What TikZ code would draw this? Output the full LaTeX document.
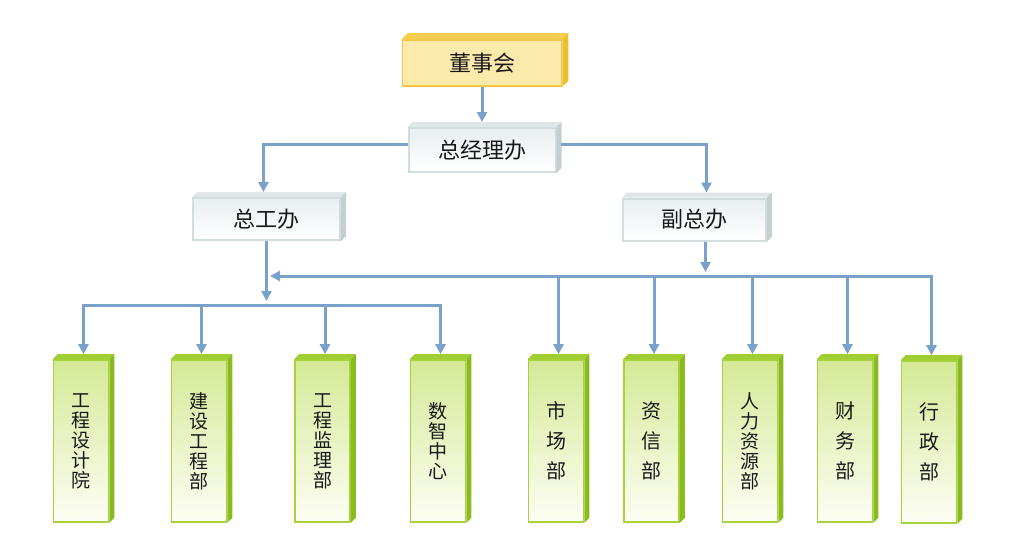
\documentclass[tikz,border=0pt]{standalone}
\usepackage{fontspec}
\setmainfont{Noto Sans CJK SC}
\usetikzlibrary{arrows.meta}
\definecolor{conncol}{RGB}{122,161,201}
\definecolor{goldfill}{RGB}{252,233,172}
\definecolor{goldline}{RGB}{242,199,64}
\definecolor{goldtop}{RGB}{244,205,85}
\definecolor{goldside}{RGB}{236,190,48}
\definecolor{grayline}{RGB}{208,220,222}
\definecolor{graytopc}{RGB}{232,238,240}
\definecolor{graytop}{RGB}{222,230,232}
\definecolor{grayside}{RGB}{196,207,210}
\definecolor{grline}{RGB}{168,210,60}
\definecolor{grtopc}{RGB}{212,233,150}
\definecolor{grbotc}{RGB}{253,254,244}
\definecolor{grtop}{RGB}{160,205,50}
\definecolor{grside}{RGB}{138,187,30}
\definecolor{txt}{RGB}{25,25,25}
\newcommand\boxfaces[4]{%
  \fill[#3] (#1.north west) -- ++(#2,-#2) -- ([shift={(#2,-#2)}]#1.north east) -- (#1.north east) -- cycle;
  \fill[#4] (#1.north east) -- ([shift={(#2,-#2)}]#1.north east) -- ([shift={(#2,-#2)}]#1.south east) -- (#1.south east) -- cycle;
}
\begin{document}
\begin{tikzpicture}[x=1pt,y=-1pt,
  tip/.style={Triangle[width=10pt,length=10pt]},
  conn/.style={draw=conncol, line width=3pt, -{Triangle[width=10pt,length=10pt]}},
  conn2/.style={draw=conncol, line width=3pt, line join=miter, {Triangle[width=10pt,length=10pt]}-{Triangle[width=10pt,length=10pt]}},
  goldbox/.style={draw=goldline, line width=1.6pt, fill=goldfill, inner sep=0pt, text=txt,
    font=\fontsize{22}{24}\selectfont},
  graybox/.style={draw=grayline, line width=2pt, top color=graytopc, bottom color=white, inner sep=0pt, text=txt,
    font=\fontsize{22}{24}\selectfont},
  greenbox/.style={draw=grline, line width=1.6pt, top color=grtopc, bottom color=grbotc, inner sep=0pt, text=txt,
    minimum width=55pt, minimum height=162pt, align=center, font=\fontsize{19}{20}\selectfont},
  greenboxwide/.style={greenbox, font=\fontsize{20}{30}\selectfont}
]
\useasboundingbox (0,0) rectangle (1024,551);

% top boxes
\node[goldbox, minimum width=159pt, minimum height=46pt] (dsh) at (482,63) {董事会};
\boxfaces{dsh}{6}{goldtop}{goldside}
\node[graybox, minimum width=147pt, minimum height=44pt] (zjl) at (482,150) {总经理办};
\boxfaces{zjl}{5}{graytop}{grayside}
\node[graybox, minimum width=147pt, minimum height=42pt] (zgb) at (266.5,219) {总工办};
\boxfaces{zgb}{5}{graytop}{grayside}
\node[graybox, minimum width=143pt, minimum height=42pt] (fzb) at (694.5,219.5) {副总办};
\boxfaces{fzb}{5}{graytop}{grayside}

% bottom boxes
\node[greenbox] (b1) at (81,441) {工\\程\\设\\计\\院};
\node[greenbox] (b2) at (199,441) {建\\设\\工\\程\\部};
\node[greenbox] (b3) at (322.5,441) {工\\程\\监\\理\\部};
\node[greenbox] (b4) at (438,441) {数\\智\\中\\心};
\node[greenboxwide] (b5) at (556,441) {市\\场\\部};
\node[greenboxwide] (b6) at (651.5,441) {资\\信\\部};
\node[greenbox] (b7) at (750,441) {人\\力\\资\\源\\部};
\node[greenboxwide] (b8) at (845,441) {财\\务\\部};
\node[greenboxwide] (b9) at (929,442) {行\\政\\部};
\foreach \b in {b1,b2,b3,b4,b5,b6,b7,b8,b9}{
  \boxfaces{\b}{5}{grtop}{grside}
  \coordinate (\b t) at ([xshift=2.5pt,yshift=5pt]\b.north);
}

% bus coordinates
\coordinate (ubus) at (270,276);
\coordinate (lbus) at (0,305);

% connectors
\draw[conn] (dsh.south) -- ([yshift=5pt]zjl.north);
\draw[conn] ([yshift=6pt]zjl.west) -| ([xshift=-3pt,yshift=5pt]zgb.north);
\draw[conn] ([xshift=4pt,yshift=6pt]zjl.east) -| ([xshift=12pt,yshift=5pt]fzb.north);
\draw[conn, shorten >=4pt] (zgb.south) -- (zgb.south |- lbus);
\draw[conn, shorten >=4pt] ([xshift=11pt]fzb.south) -- ([xshift=11pt]fzb.south |- ubus);
\draw[conn2] (ubus) -- (b9t |- ubus) -- (b9t);
\draw[conn2] (b1t) -- (b1t |- lbus) -- (b4t |- lbus) -- (b4t);
\draw[conn] (b2t |- lbus) -- (b2t);
\draw[conn] (b3t |- lbus) -- (b3t);
\draw[conn] (b5t |- ubus) -- (b5t);
\draw[conn] (b6t |- ubus) -- (b6t);
\draw[conn] (b7t |- ubus) -- (b7t);
\draw[conn] (b8t |- ubus) -- (b8t);
\end{tikzpicture}
\end{document}
